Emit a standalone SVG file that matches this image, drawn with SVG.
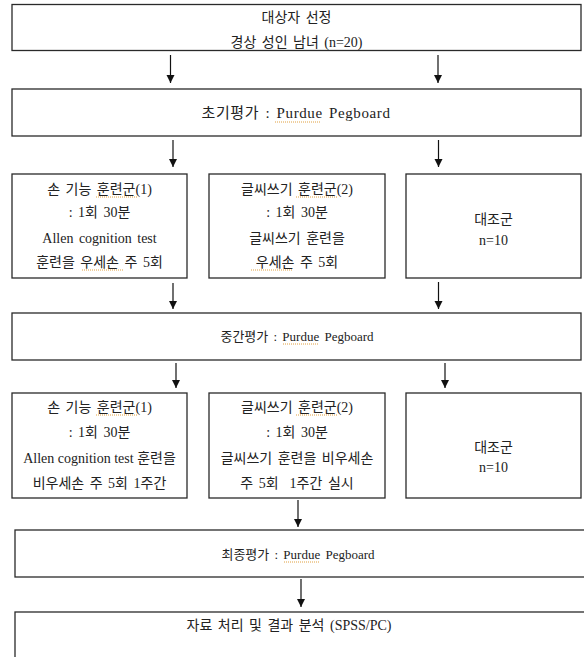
<svg xmlns="http://www.w3.org/2000/svg" width="584" height="657" viewBox="0 0 584 657">
<defs>
<marker id="ah" viewBox="0 0 8 10" refX="8" refY="5" markerWidth="8" markerHeight="10" markerUnits="userSpaceOnUse" orient="auto">
<path d="M0,1 L8,5 L0,9 Z" fill="#111"/>
</marker>
</defs>
<style>
.box{fill:#fff;stroke:#2a2a2a;stroke-width:1.3}
.t{font-family:"Liberation Serif","Noto Sans CJK KR",serif;font-size:14px;fill:#222;text-anchor:middle;word-spacing:2px}
.s{font-size:13px}
.conn line{stroke:#111;stroke-width:1.2;marker-end:url(#ah)}
.sq{stroke:#e0a040;stroke-width:1;stroke-dasharray:1 1;fill:none}
</style>
<rect width="584" height="657" fill="#fff"/>
<g id="n-select">
<rect class="box" x="12" y="4.5" width="569" height="46"/>
<text class="t" x="296.5" y="22">대상자 선정</text>
<text class="t" x="296.5" y="47">경상 성인 남녀 (n=20)</text>
</g>
<g id="n-initial">
<rect class="box" x="12" y="89" width="569" height="47"/>
<text class="t" x="296" y="118" style="font-size:15px;letter-spacing:0.6px">초기평가 : Purdue Pegboard</text>
<line class="sq" x1="275" y1="122" x2="321" y2="122"/>
</g>
<g id="n-hand1">
<rect class="box" x="12" y="174" width="175" height="104"/>
<text class="t" x="99.5" y="194">손 기능 훈련군(1)</text>
<text class="t" x="99.5" y="217">: 1회 30분</text>
<text class="t" x="99.5" y="243">Allen cognition test</text>
<text class="t" x="99.5" y="267">훈련을 우세손 주 5회</text>
<line class="sq" x1="96" y1="197" x2="138" y2="197"/>
<line class="sq" x1="82" y1="270" x2="124" y2="270"/>
</g>
<g id="n-write1">
<rect class="box" x="209" y="174" width="176" height="104"/>
<text class="t" x="297" y="194">글씨쓰기 훈련군(2)</text>
<text class="t" x="297" y="217">: 1회 30분</text>
<text class="t" x="297" y="243">글씨쓰기 훈련을</text>
<text class="t" x="297" y="267">우세손 주 5회</text>
<line class="sq" x1="296" y1="197" x2="338" y2="197"/>
<line class="sq" x1="251" y1="270" x2="292" y2="270"/>
</g>
<g id="n-control1">
<rect class="box" x="406" y="174" width="175" height="104"/>
<text class="t" x="493.5" y="224">대조군</text>
<text class="t" x="493.5" y="245">n=10</text>
</g>
<g id="n-mid">
<rect class="box" x="12" y="313" width="569" height="47"/>
<text class="t s" x="297" y="341">중간평가 : Purdue Pegboard</text>
<line class="sq" x1="283" y1="344" x2="319" y2="344"/>
</g>
<g id="n-hand2">
<rect class="box" x="12" y="393" width="175" height="105"/>
<text class="t" x="99.5" y="412">손 기능 훈련군(1)</text>
<text class="t" x="99.5" y="437">: 1회 30분</text>
<text class="t" x="99.5" y="463" style="word-spacing:0">Allen cognition test 훈련을</text>
<text class="t" x="99.5" y="488">비우세손 주 5회 1주간</text>
<line class="sq" x1="96" y1="415" x2="138" y2="415"/>
</g>
<g id="n-write2">
<rect class="box" x="209" y="393" width="176" height="105"/>
<text class="t" x="297" y="412">글씨쓰기 훈련군(2)</text>
<text class="t" x="297" y="437">: 1회 30분</text>
<text class="t" x="297" y="463">글씨쓰기 훈련을 비우세손</text>
<text class="t" x="297" y="488" style="white-space:pre">주 5회  1주간 실시</text>
<line class="sq" x1="296" y1="415" x2="338" y2="415"/>
</g>
<g id="n-control2">
<rect class="box" x="406" y="393" width="175" height="105"/>
<text class="t" x="493.5" y="452">대조군</text>
<text class="t" x="493.5" y="472">n=10</text>
</g>
<g id="n-final">
<rect class="box" x="15" y="530" width="600" height="47"/>
<text class="t s" x="298" y="559">최종평가 : Purdue Pegboard</text>
<line class="sq" x1="284" y1="562" x2="320" y2="562"/>
</g>
<g id="n-analysis">
<rect class="box" x="15" y="612" width="600" height="60"/>
<text class="t" x="289" y="630">자료 처리 및 결과 분석 (SPSS/PC)</text>
</g>
<g id="connectors" class="conn">
<line x1="170.5" y1="55" x2="170.5" y2="83"/>
<line x1="438" y1="55" x2="438" y2="83"/>
<line x1="173" y1="140" x2="173" y2="167"/>
<line x1="438.5" y1="140" x2="438.5" y2="167"/>
<line x1="173" y1="283" x2="173" y2="309"/>
<line x1="438.5" y1="282" x2="438.5" y2="309"/>
<line x1="176" y1="363" x2="176" y2="388"/>
<line x1="445" y1="363" x2="445" y2="388"/>
<line x1="298" y1="500" x2="298" y2="527"/>
<line x1="301" y1="579" x2="301" y2="607"/>
</g>
</svg>
